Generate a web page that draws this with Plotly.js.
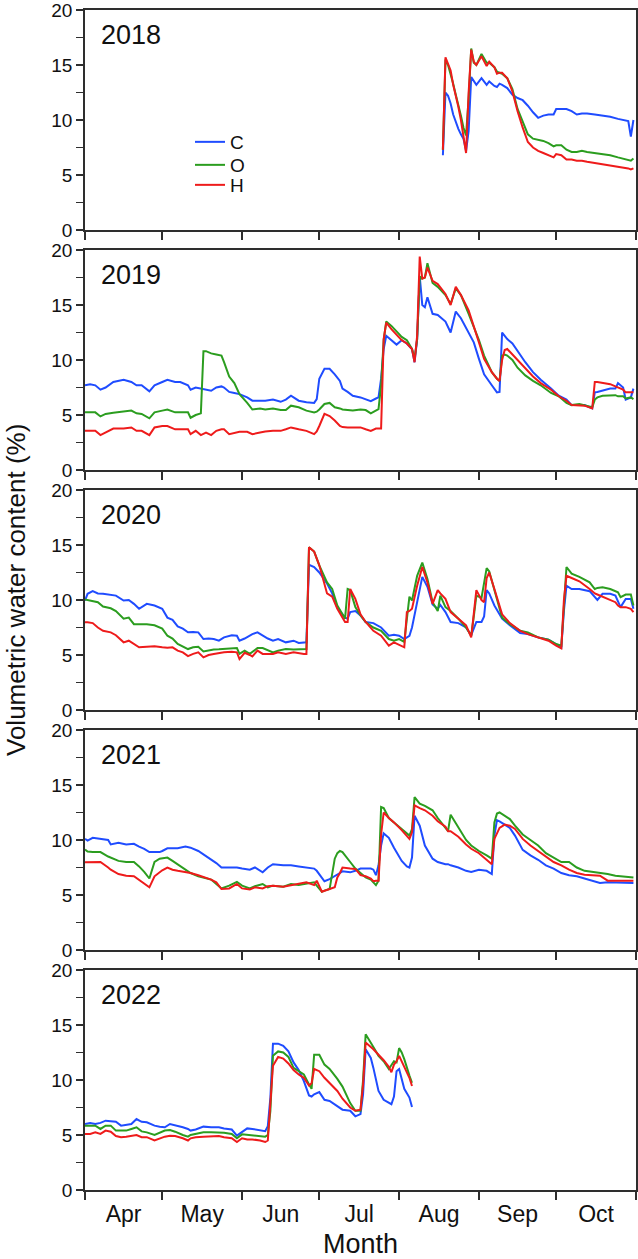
<!DOCTYPE html>
<html><head><meta charset="utf-8">
<script src="https://cdn.plot.ly/plotly-3.0.1.min.js"></script>
<style>html,body{margin:0;padding:0;background:#fff}#chart{width:638px;height:1259px}</style>
</head><body><div id="chart"></div>
<script>
// ---------------- DATA (x = days since 1 April of each year) ----------------
const years = [2018, 2019, 2020, 2021, 2022];
const seriesNames = ['C', 'O', 'H'];

const days2018 = [139,140,141,142,143,144,145,146,147,148,149,150,151,152,154,156,157,159,160,161,162,164,166,168,170,172,174,176,178,180,182,183,185,187,189,191,193,195,198,201,204,207,209,211,212,213];
const c2018 = [6.8,12.5,12.2,11.5,10.5,9.8,9.2,8.7,8.3,7.2,9.0,13.9,13.5,13.2,13.8,13.2,13.5,13.1,13.0,13.3,13.2,12.9,12.3,12.0,11.8,11.3,10.7,10.2,10.4,10.5,10.5,11.0,11.0,11.0,10.8,10.5,10.6,10.6,10.5,10.4,10.3,10.1,10.0,9.9,8.5,10.0];
const o2018 = [7.3,15.5,15.0,14.2,13.3,12.3,11.4,10.4,9.3,8.6,12.0,16.5,15.2,15.0,16.0,15.2,15.2,14.8,14.4,14.3,14.2,13.8,12.8,11.0,9.8,8.7,8.3,8.2,8.1,7.9,7.6,7.7,7.7,7.3,7.1,7.1,7.2,7.1,7.0,6.9,6.8,6.6,6.5,6.4,6.3,6.5];
const h2018 = [7.3,15.7,15.1,14.5,13.2,12.3,11.2,10.0,8.6,7.0,12.5,16.4,15.3,15.0,15.8,14.9,15.3,14.8,14.2,14.3,14.3,13.8,12.6,10.8,9.3,8.0,7.5,7.2,7.0,6.8,6.6,6.9,6.8,6.4,6.4,6.3,6.3,6.2,6.1,6.0,5.9,5.8,5.7,5.6,5.5,5.6];

const days2019 = [0,2,4,6,8,11,15,18,20,22,25,27,30,32,35,37,40,41,43,45,46,47,49,51,53,54,56,58,60,63,65,68,70,73,76,78,80,83,86,89,90,91,93,95,97,99,100,102,104,107,109,111,113,114,115,116,117,119,121,123,125,127,128,129,130,131,132,133,135,137,140,142,144,146,149,151,153,155,158,160,161,162,163,164,166,168,171,174,177,181,184,187,189,192,194,197,198,199,201,204,206,207,209,210,212,213];
const c2019 = [7.7,7.8,7.7,7.3,7.5,8.0,8.2,8.0,7.7,7.7, 7.15,7.7,8.0,8.2,8.0,8.0,7.7,7.3,7.5,7.4, 7.4,7.3,7.2,7.5,7.6,7.5,7.1,7.0,6.9,6.6, 6.3,6.3,6.3,6.4,6.2,6.4,6.75,6.3,6.15,6.1, 6.45,8.3,9.2,9.2,8.7,8.1,7.4,7.1,6.75,6.6, 6.4,6.25,6.5,6.6,8.3,11.0,12.2,11.8,11.4,11.8, 11.5,11.0,9.8,11.9,17.6,15.0,14.8,15.7,14.2,14.1, 13.5,12.5,14.4,13.8,12.5,11.6,10.1,8.7,7.7,7.06, 7.1,12.5,12.2,11.9,11.5,10.8,9.8,8.9,8.2,7.4, 6.75,6.4,5.9,5.9,5.9,5.6,7.06,7.1,7.2,7.4, 7.4,7.9,7.5,6.4,6.6,7.4];
const o2019 = [5.24,5.24,5.24,4.87,5.1,5.2,5.3,5.4,5.15,5.1, 4.7,5.24,5.4,5.5,5.24,5.24,5.24,4.75,5.0,5.15, 10.8,10.8,10.6,10.5,10.4,9.8,8.5,7.9,6.9,6.1, 5.5,5.6,5.5,5.6,5.45,5.45,5.85,5.7,5.4,5.24, 5.3,5.5,6.0,6.1,5.7,5.6,5.5,5.45,5.4,5.5, 5.45,5.15,5.4,5.54,7.7,11.8,13.5,13.1,12.6,12.1, 11.8,11.0,10.1,11.9,17.6,17.4,17.5,18.8,17.0,16.65, 15.9,15.1,16.5,15.9,14.2,13.0,11.8,10.4,8.9,8.3, 8.1,10.4,10.5,10.4,10.0,9.3,8.6,8.1,7.7,7.0, 6.7,6.1,5.9,6.0,5.9,5.7,6.4,6.6,6.75,6.8, 6.8,6.7,6.7,6.5,6.6,6.45];
const h2019 = [3.56,3.56,3.56,3.17,3.4,3.77,3.77,3.87,3.56,3.56, 3.17,3.87,4.0,4.0,3.7,3.7,3.7,3.26,3.56,3.17, 3.3,3.4,3.17,3.56,3.7,3.7,3.26,3.4,3.47,3.47, 3.26,3.4,3.5,3.56,3.56,3.7,3.87,3.7,3.56,3.26, 3.5,4.0,5.1,4.9,4.5,4.0,3.9,3.87,3.87,3.87, 3.7,3.56,3.77,3.77,3.77,11.9,13.4,12.8,12.3,11.8, 11.5,11.0,9.8,12.2,19.4,17.4,17.5,18.4,17.2,16.9, 16.0,15.0,16.65,15.9,14.5,13.15,11.6,10.1,8.9,8.3, 8.1,10.0,10.9,11.0,10.5,10.0,9.2,8.5,7.9,7.3, 6.7,6.3,5.9,5.85,5.85,5.6,8.0,8.0,7.9,7.8, 7.6,7.5,7.3,7.06,7.06,7.06];

const days2020 = [0,1,3,5,7,10,12,15,17,19,21,24,27,30,32,34,36,38,40,42,44,46,48,50,52,54,57,59,60,62,64,65,67,69,71,73,75,78,81,83,85,86,87,89,91,94,96,98,100,101,102,103,105,107,109,112,115,118,120,122,124,125,126,127,129,131,133,135,137,138,140,142,145,148,150,151,152,154,155,156,157,159,162,165,169,172,176,180,183,185,186,187,189,192,196,198,199,201,204,206,207,208,210,212,213];
const c2020 = [9.95,10.56,10.8,10.6,10.56,10.5,10.4,9.95,10.0,9.65, 9.2,9.65,9.5,9.2,8.4,8.2,7.6,7.4,7.06,7.1, 7.06,6.45,6.5,6.45,6.3,6.6,6.8,6.75,6.3,6.5, 6.8,6.9,7.06,6.75,6.5,6.3,6.45,6.15,6.3,6.1, 6.15,6.15,13.2,13.0,12.5,11.5,10.6,9.3,8.7,8.4, 8.3,8.9,9.0,8.6,8.0,7.9,7.5,6.75,6.85,6.75, 6.45,6.6,6.75,7.5,9.8,12.1,11.2,9.6,9.2,9.55, 8.9,8.0,7.9,7.5,6.8,7.5,8.0,8.0,8.5,10.9, 10.6,9.5,8.3,7.7,7.0,6.9,6.6,6.4,5.95,5.7, 9.0,11.3,11.0,11.0,10.8,10.2,10.0,10.56,10.56,10.4, 9.8,9.35,10.1,10.1,9.2];
const o2020 = [10.05,10.0,9.95,9.8,9.4,9.25,9.0,8.3,8.4,7.8, 7.8,7.8,7.7,7.4,6.75,6.5,6.0,5.8,5.54,5.7, 5.75,5.33,5.45,5.5,5.52,5.54,5.6,5.63,5.1,5.4, 5.1,5.3,5.63,5.63,5.4,5.24,5.4,5.54,5.5,5.5, 5.54,5.54,14.8,14.4,13.15,11.6,11.0,9.5,8.7,8.3, 11.0,10.9,9.35,8.6,8.0,7.5,7.2,6.45,6.3,6.45, 6.2,8.1,10.3,9.95,12.2,13.4,11.9,9.8,9.0,10.4, 9.35,9.0,8.3,7.5,6.75,8.5,10.4,10.2,11.5,12.9, 12.6,11.0,8.4,7.8,7.2,7.06,6.6,6.4,6.0,5.85, 10.0,13.0,12.4,12.1,11.6,11.0,11.1,11.15,11.0,10.8, 10.7,10.26,10.5,10.5,9.5];
const h2020 = [7.98,7.98,7.9,7.5,7.2,7.06,6.8,6.15,6.3,6.0, 5.7,5.75,5.8,5.7,5.65,5.7,5.4,5.24,4.9,5.1, 5.24,4.78,5.0,5.1,5.2,5.25,5.3,5.24,4.63,5.2, 5.0,4.87,5.4,5.1,5.1,5.1,5.24,5.1,5.24,5.15, 5.1,5.1,14.8,14.4,13.15,10.6,10.3,9.2,8.4,8.0, 8.0,11.0,10.1,8.7,8.0,7.2,6.75,5.85,6.15,5.9, 5.7,8.9,9.0,9.2,11.3,13.0,11.6,9.65,10.9,10.6, 10.1,8.9,8.3,7.7,6.6,9.0,10.9,10.0,9.8,12.0, 12.5,11.0,8.7,7.9,7.2,6.9,6.6,6.3,5.85,5.6, 10.0,12.2,12.0,11.7,11.0,10.6,10.5,10.3,10.0,9.8, 9.5,9.35,9.35,9.2,8.9];

const days2021 = [0,1,3,6,9,10,13,16,19,21,23,25,27,29,30,32,34,36,39,41,44,46,49,51,53,56,59,61,64,66,69,71,73,77,80,83,86,89,90,92,93,95,97,98,99,100,103,105,107,109,111,112,113,114,115,116,118,120,123,125,126,127,128,130,132,135,137,140,141,142,145,148,150,153,156,158,159,160,161,163,165,167,170,173,176,179,182,185,188,191,194,197,200,203,206,209,213];
const c2021 = [10.1,9.95,10.2,10.1,10.0,9.6,9.75,9.6,9.65,9.4, 9.2,8.9,8.9,8.9,9.0,9.25,9.25,9.25,9.4,9.3, 9.0,8.7,8.2,7.9,7.5,7.5,7.5,7.4,7.3,7.5, 7.06,7.5,7.8,7.7,7.7,7.6,7.5,7.4,7.2,6.6, 6.25,6.45,6.7,6.8,7.0,7.15,7.06,7.2,7.4,7.4, 7.4,7.3,6.8,7.7,9.5,10.6,10.2,9.3,8.1,7.6, 7.5,8.4,12.2,11.3,9.5,8.3,8.0,7.8,7.8,7.7, 7.5,7.2,7.1,7.3,7.2,6.9,10.4,11.8,11.7,11.4, 11.1,10.4,9.1,8.6,8.2,7.7,7.4,7.0,6.8,6.7, 6.5,6.3,6.1,6.15,6.15,6.1,6.1];
const o2021 = [9.13,8.95,8.9,8.9,8.5,8.4,8.1,8.0,8.0,7.6, 7.1,6.5,8.0,8.3,8.35,8.4,8.1,7.8,7.3,7.0, 6.7,6.6,6.4,6.0,5.6,5.85,6.2,5.85,5.6,5.8, 6.0,5.7,5.85,5.75,6.0,5.9,6.0,6.15,5.85,5.3, 5.4,5.54,8.3,8.8,9.0,8.9,8.0,7.4,7.0,6.6, 6.4,6.1,5.9,6.3,13.0,12.9,12.0,11.6,11.0,10.6, 10.4,11.0,13.9,13.3,13.1,12.7,12.0,11.1,10.8,12.3, 11.2,10.0,9.5,9.0,8.6,8.3,11.6,12.4,12.5,12.2, 11.9,11.3,10.5,10.0,9.5,8.8,8.4,8.0,8.0,7.5, 7.2,7.1,7.06,6.9,6.75,6.7,6.6];
const h2021 = [7.98,7.98,8.0,8.0,7.5,7.3,6.9,6.75,6.7,6.35, 6.0,5.7,6.7,7.1,7.25,7.5,7.3,7.2,7.1,7.0, 6.8,6.65,6.4,6.15,5.54,5.6,6.0,5.6,5.5,5.7, 5.6,5.8,5.85,5.75,5.9,6.0,6.15,5.9,6.3,5.3, 5.4,5.54,5.7,6.6,7.0,7.5,7.4,7.37,6.8,6.7, 6.5,6.25,6.3,6.3,10.5,12.5,12.0,11.6,10.9,10.4, 10.1,10.7,13.15,12.9,12.7,12.2,11.7,11.2,10.8,10.8, 10.3,9.6,9.2,8.8,8.2,7.8,10.1,10.6,11.1,11.4, 11.3,11.0,10.1,9.5,9.0,8.5,8.0,7.7,7.3,7.0, 6.85,6.8,6.75,6.3,6.3,6.3,6.3];

const days2022 = [0,2,4,6,8,10,12,14,16,18,20,22,24,27,29,31,33,35,38,40,41,43,46,49,52,54,57,59,61,63,65,68,70,71,72,73,75,77,79,81,83,85,87,88,89,91,93,95,98,100,103,105,107,108,109,111,112,114,116,118,119,120,121,122,123,124,126,127];
const c2022 = [6.0,6.1,6.0,6.1,6.3,6.25,6.2,5.85,5.9,6.0, 6.45,6.2,6.15,5.85,5.75,5.7,6.0,5.9,5.7,5.55, 5.4,5.5,5.76,5.7,5.7,5.6,5.5,4.94,5.3,5.6, 5.55,5.4,5.35,5.8,8.4,13.3,13.3,13.1,12.6,11.6, 10.9,9.9,8.6,8.5,8.7,8.9,8.2,8.1,7.6,7.3, 7.2,6.7,6.9,8.7,12.8,12.0,11.1,9.0,8.2,7.9, 7.8,8.5,10.8,11.0,10.2,9.2,8.4,7.55];
const o2022 = [5.85,5.85,5.85,5.55,5.85,5.85,5.4,5.4,5.4,5.55, 5.7,5.33,5.24,5.0,5.2,5.4,5.45,5.3,5.0,4.85, 5.0,5.1,5.24,5.24,5.24,5.2,5.1,4.7,5.06,5.0, 5.0,4.9,4.85,5.0,7.2,12.2,12.6,12.5,12.1,11.1, 10.8,10.5,9.6,9.2,12.3,12.3,11.4,11.0,10.1,9.4, 7.9,7.2,7.2,10.0,14.15,13.3,13.0,12.2,11.7,11.0, 11.3,11.7,11.6,12.9,12.5,11.9,10.4,9.75];
const h2022 = [5.1,5.1,5.24,5.1,5.4,5.3,4.9,4.8,4.85,4.9, 5.0,4.8,4.8,4.5,4.7,4.85,4.94,4.9,4.7,4.5, 4.7,4.8,4.85,4.85,4.9,4.8,4.7,4.36,4.7,4.6, 4.6,4.5,4.36,4.5,8.0,11.3,12.1,11.95,11.5,10.9, 10.5,10.2,9.5,9.7,11.0,10.8,10.2,9.75,9.0,8.3, 7.5,7.2,7.3,9.6,13.4,13.0,12.8,12.3,11.8,11.2, 10.7,11.4,11.7,12.2,11.7,11.2,10.2,9.45];

const yTickVals = [0, 2.5, 5, 7.5, 10, 12.5, 15, 17.5, 20];
const yTickText = ['0', '', '5', '', '10', '', '15', '', '20'];
const yTitle = 'Volumetric water content (%)';
const xTitle = 'Month';

// ---------------- BUILD ----------------
const dataByYear = {
  2018: {days: days2018, vals: [c2018, o2018, h2018]},
  2019: {days: days2019, vals: [c2019, o2019, h2019]},
  2020: {days: days2020, vals: [c2020, o2020, h2020]},
  2021: {days: days2021, vals: [c2021, o2021, h2021]},
  2022: {days: days2022, vals: [c2022, o2022, h2022]}
};
const colors = ['#1f4cff', '#2b9d1f', '#ee1b1b'];
const FONT = 'Liberation Sans, Arial, Helvetica, sans-serif';
const AX = '#2e2e2e';

function toDate(yr, d) {
  const t = Date.UTC(yr, 3, 1) + d * 86400000;
  return new Date(t).toISOString().slice(0, 10);
}

const W = 638, Hh = 1259;
const M = {l: 85, r: 2, t: 10, b: 69};
const plotW = W - M.l - M.r;
const plotH = Hh - M.t - M.b;
const panelH = 220, gap = 20;

const traces = [];
const layout = {
  width: W, height: Hh,
  margin: M,
  paper_bgcolor: '#fff', plot_bgcolor: '#fff',
  font: {family: FONT, color: '#111'},
  showlegend: true,
  annotations: [],
  hovermode: false
};

years.forEach((yr, i) => {
  const sfx = i === 0 ? '' : String(i + 1);
  const xa = 'x' + sfx, ya = 'y' + sfx;
  const dset = dataByYear[yr];
  const xs = dset.days.map(d => toDate(yr, d));
  seriesNames.forEach((nm, k) => {
    const tr = {
      type: 'scatter', mode: 'lines', name: nm,
      x: xs, y: dset.vals[k],
      xaxis: xa, yaxis: ya,
      line: {color: colors[k], width: 2},
      showlegend: i === 0
    };
    if (i === 0) tr.legend = k === 0 ? 'legend' : 'legend' + (k + 1);
    traces.push(tr);
  });
  const top = i * (panelH + gap);
  const d1 = 1 - top / plotH;
  const d0 = 1 - (top + panelH) / plotH;
  layout['xaxis' + sfx] = {
    type: 'date',
    range: [yr + '-04-01', yr + '-11-01'],
    tick0: yr + '-04-01', dtick: 'M1',
    ticks: 'outside', ticklen: 8, tickwidth: 1.8, tickcolor: AX,
    showline: true, linecolor: AX, linewidth: 1.8, mirror: true,
    showgrid: false, zeroline: false,
    showticklabels: i === years.length - 1,
    ticklabelmode: 'period', tickformat: '%b',
    ticklabelstandoff: -5,
    tickfont: {family: FONT, size: 23, color: '#111'},
    anchor: ya, fixedrange: true
  };
  if (i === years.length - 1) {
    layout['xaxis' + sfx].title = {text: xTitle, font: {family: FONT, size: 27, color: '#111'}, standoff: 9};
  }
  layout['yaxis' + sfx] = {
    domain: [d0, d1],
    range: [0, 20],
    tickmode: 'array', tickvals: yTickVals, ticktext: yTickText,
    ticks: 'outside', ticklen: 7, tickwidth: 1.8, tickcolor: AX,
    showline: true, linecolor: AX, linewidth: 1.8, mirror: true,
    showgrid: false, zeroline: false,
    ticklabeloverflow: 'allow',
    tickfont: {family: FONT, size: 19, color: '#111'},
    anchor: xa, fixedrange: true
  };
  layout.annotations.push({
    text: String(yr), showarrow: false,
    xref: xa + ' domain', yref: ya + ' domain',
    x: 0.026, y: 1 - 24.7 / panelH, xanchor: 'left', yanchor: 'middle',
    font: {family: FONT, size: 27, color: '#111'}
  });
});

layout.annotations.push({
  text: yTitle, showarrow: false, textangle: -90,
  xref: 'paper', yref: 'paper',
  x: (16 - M.l) / plotW, y: (Hh - M.b - 590) / plotH,
  xanchor: 'center', yanchor: 'middle',
  font: {family: FONT, size: 26, color: '#111'}
});

const legY = [142, 165, 185];
const legX = (190 - M.l) / plotW;
['legend', 'legend2', 'legend3'].forEach((key, k) => {
  layout[key] = {
    x: legX, y: (Hh - M.b - legY[k]) / plotH,
    xanchor: 'left', yanchor: 'middle',
    bgcolor: 'rgba(0,0,0,0)', borderwidth: 0,
    font: {family: FONT, size: 19, color: '#111'}
  };
});

Plotly.newPlot('chart', traces, layout, {displayModeBar: false, staticPlot: true});
</script>
</body></html>
